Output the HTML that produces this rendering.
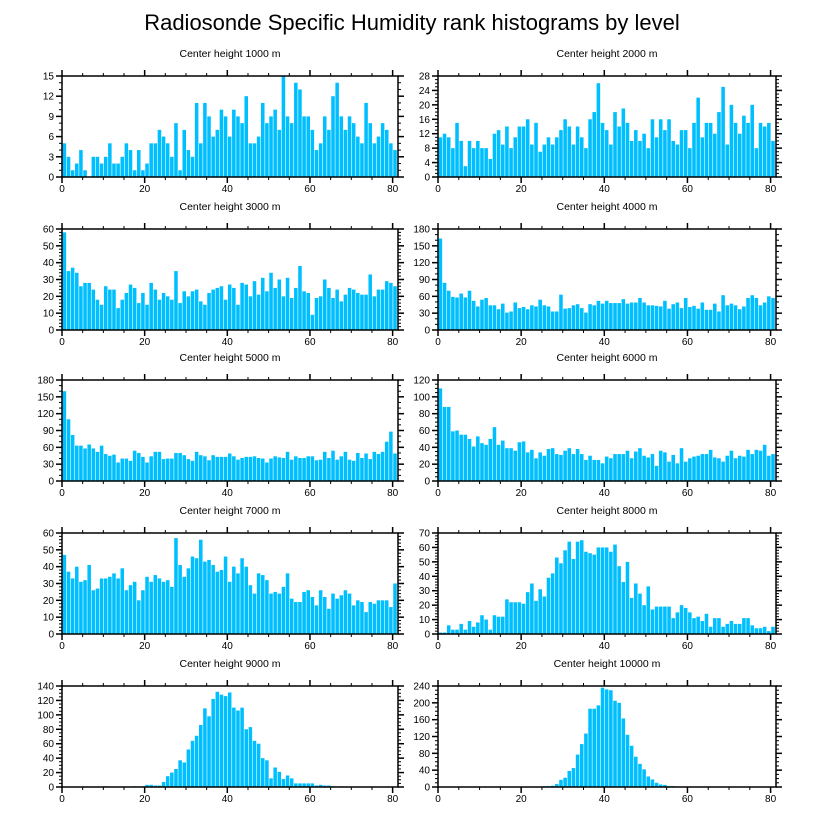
<!DOCTYPE html>
<html><head><meta charset="utf-8">
<style>
html,body{margin:0;padding:0;background:#fff;}
svg{display:block;font-family:"Liberation Sans",Arial,sans-serif;}
</style></head>
<body>
<svg id="chart" width="816" height="824" viewBox="0 0 816 824">
<text x="412" y="30" text-anchor="middle" font-size="22" fill="#000">Radiosonde Specific Humidity rank histograms by level</text>
</svg>
<script>
const panelTitles = ["Center height 1000 m","Center height 2000 m","Center height 3000 m","Center height 4000 m","Center height 5000 m","Center height 6000 m","Center height 7000 m","Center height 8000 m","Center height 9000 m","Center height 10000 m"];
const xTicks = [0,20,40,60,80];
const yMaxes = [15,28,60,180,180,120,60,70,140,240];
const ySteps = [3,4,10,30,30,20,10,10,20,40];
const yMinorDiv = [3,4,5,3,3,4,5,5,4,4];
const h1000 = [5,3,1,2,4,1,0,3,3,2,3,5,2,2,3,5,4,1,4,1,2,5,5,7,6,5,3,8,1,7,4,3,11,5,11,9,6,7,10,9,6,10,9,8,12,5,5,6,11,8,9,10,7,15,9,8,14,13,9,9,7,4,5,9,7,12,14,9,7,9,8,6,5,11,8,5,6,8,7,5,4];
const h2000 = [11,12,11,8,15,10,3,10,8,10,8,8,5,12,13,9,14,8,11,14,14,16,9,15,7,9,11,9,11,13,16,14,9,14,11,8,16,18,26,15,13,9,18,14,19,15,10,13,10,12,8,16,11,16,13,16,10,9,13,13,8,15,22,11,15,15,12,18,25,9,20,15,12,17,15,20,8,15,14,15,10];
const h3000 = [58,35,37,34,26,28,28,24,18,15,26,24,24,13,18,22,27,25,16,22,15,28,24,18,22,20,18,35,16,23,20,23,24,17,15,22,24,25,26,18,27,25,15,28,27,20,29,21,31,23,34,25,30,20,31,19,25,38,23,22,9,19,20,30,25,19,24,17,21,25,24,22,21,21,33,20,24,24,29,28,26];
const h4000 = [163,84,70,59,58,65,58,70,52,42,54,57,44,44,37,47,31,33,49,39,41,37,44,42,54,44,42,33,33,63,38,39,44,46,39,31,46,44,52,47,52,48,48,48,55,47,49,49,57,49,44,44,43,42,52,38,46,49,39,57,41,43,38,49,36,36,47,33,62,44,47,44,37,42,57,62,57,44,49,60,57];
const h5000 = [160,110,82,63,63,58,65,58,52,63,48,45,47,33,40,40,36,54,50,43,33,44,52,52,39,40,40,50,50,46,39,36,52,46,44,37,46,43,43,43,49,44,38,41,43,43,44,41,40,33,40,44,42,41,52,38,44,41,41,44,44,37,38,52,41,54,38,44,52,38,36,50,41,49,39,52,48,52,70,88,49];
const h6000 = [110,88,88,59,60,55,55,50,41,53,45,43,50,64,43,48,39,39,36,46,47,34,37,27,34,30,38,39,32,31,36,39,32,38,32,25,30,25,25,21,29,27,32,32,32,36,27,35,39,30,28,32,18,36,34,23,31,21,39,23,27,29,30,32,32,37,28,27,23,30,36,27,30,29,37,32,37,36,43,30,32];
const h7000 = [47,37,33,40,31,32,41,26,27,33,33,34,36,33,39,26,29,31,20,26,34,31,35,33,31,32,28,57,41,34,39,46,45,56,43,44,41,37,38,46,31,40,36,45,40,29,24,36,35,32,24,25,24,28,36,21,19,19,25,26,22,17,26,22,15,24,21,23,26,24,17,20,19,13,19,18,20,20,20,16,30];
const h8000 = [1,1,6,3,3,7,3,9,5,8,13,10,3,13,12,12,24,22,22,22,21,29,35,23,31,26,39,42,53,49,58,64,52,64,65,57,56,55,60,60,60,57,62,47,36,50,25,35,28,20,33,17,19,19,19,19,11,15,20,18,15,11,12,9,14,5,11,11,5,7,9,7,7,11,11,6,4,4,5,2,5];
const h9000 = [0,0,0,0,0,0,0,0,0,0,1,0,0,0,0,0,0,1,0,1,3,3,2,2,7,15,20,25,37,34,52,64,71,86,109,98,122,132,128,126,131,110,106,110,80,83,64,60,40,37,12,27,21,11,16,12,5,5,5,5,5,2,3,2,2,1,0,1,0,0,0,0,0,0,0,0,0,0,0,0,0];
const h10000 = [0,0,0,0,0,0,0,0,0,0,0,0,0,0,0,0,0,0,0,0,0,0,0,0,0,2,2,3,7,17,22,38,45,77,102,127,186,186,194,236,232,230,205,200,163,124,98,72,55,42,25,18,10,6,5,2,2,0,0,1,0,0,0,0,0,0,0,0,0,0,0,0,0,0,0,0,0,0,0,0,0];
const series = [h1000,h2000,h3000,h4000,h5000,h6000,h7000,h8000,h9000,h10000];

const NS = "http://www.w3.org/2000/svg";
const svg = document.getElementById('chart');
const XMAX = 81.3;
const colX = [[62,398],[438,776]];
const rowTop = [76,229,380,533,686];
const PH = 101;
function mk(tag, attrs, parent){ const e=document.createElementNS(NS,tag); for(const k in attrs) e.setAttribute(k,attrs[k]); (parent||svg).appendChild(e); return e; }

series.forEach((vals, p) => {
  const col = p % 2, row = Math.floor(p/2);
  const x0 = colX[col][0], x1 = colX[col][1];
  const top = rowTop[row], bot = top + PH;
  const ymax = yMaxes[p];
  const xs = v => x0 + (x1 - x0) * v / XMAX;
  const ys = v => bot - PH * v / ymax;
  const g = mk('g', {});
  
  
  const t = mk('text', {x:(x0+x1)/2, y: top-19, 'text-anchor':'middle', 'font-size':'10.5', fill:'#000'}, g);
  t.textContent = panelTitles[p];
  
  
  vals.forEach((v, i) => {
    if (v <= 0) return;
    const a = xs(i + 0.15), b = xs(i + 1.15);
    const r = mk('rect', {x:a, y:ys(v), width:Math.max(0.5,b-a-0.6), height:bot-ys(v), fill:'#00BFFF'}, g);
    
    
  });
  const frame = mk('rect', {x:x0, y:top, width:x1-x0, height:PH, fill:'none', stroke:'#000', 'stroke-width':'1.5'}, g);
  
  
  for (let v = 0; v <= XMAX; v += 5) {
    const major = v % 20 === 0, L = major ? 6 : 3, x = xs(v);
    mk('line', {x1:x, x2:x, y1:bot, y2:bot+L, stroke:'#000', 'stroke-width': major?1.5:1}, g);
    mk('line', {x1:x, x2:x, y1:top, y2:top-L, stroke:'#000', 'stroke-width': major?1.5:1}, g);
  }
  xTicks.forEach(v => {
    const tl = mk('text', {x:xs(v), y:bot+15, 'text-anchor':'middle', 'font-size':'10', fill:'#000'}, g);
    tl.textContent = v;
    
    
  });
  const step = ySteps[p], mstep = step / yMinorDiv[p];
  for (let k = 0; k * mstep <= ymax + 1e-9; k++) {
    const v = k * mstep, major = k % yMinorDiv[p] === 0, L = major ? 6 : 3, y = ys(v);
    mk('line', {x1:x0, x2:x0-L, y1:y, y2:y, stroke:'#000', 'stroke-width': major?1.5:1}, g);
    mk('line', {x1:x1, x2:x1+L, y1:y, y2:y, stroke:'#000', 'stroke-width': major?1.5:1}, g);
    if (major) {
      const yl = mk('text', {x:x0-8, y:y+3.5, 'text-anchor':'end', 'font-size':'10', fill:'#000'}, g);
      yl.textContent = Math.round(v);
      
      
    }
  }
});
</script>
</body></html>
